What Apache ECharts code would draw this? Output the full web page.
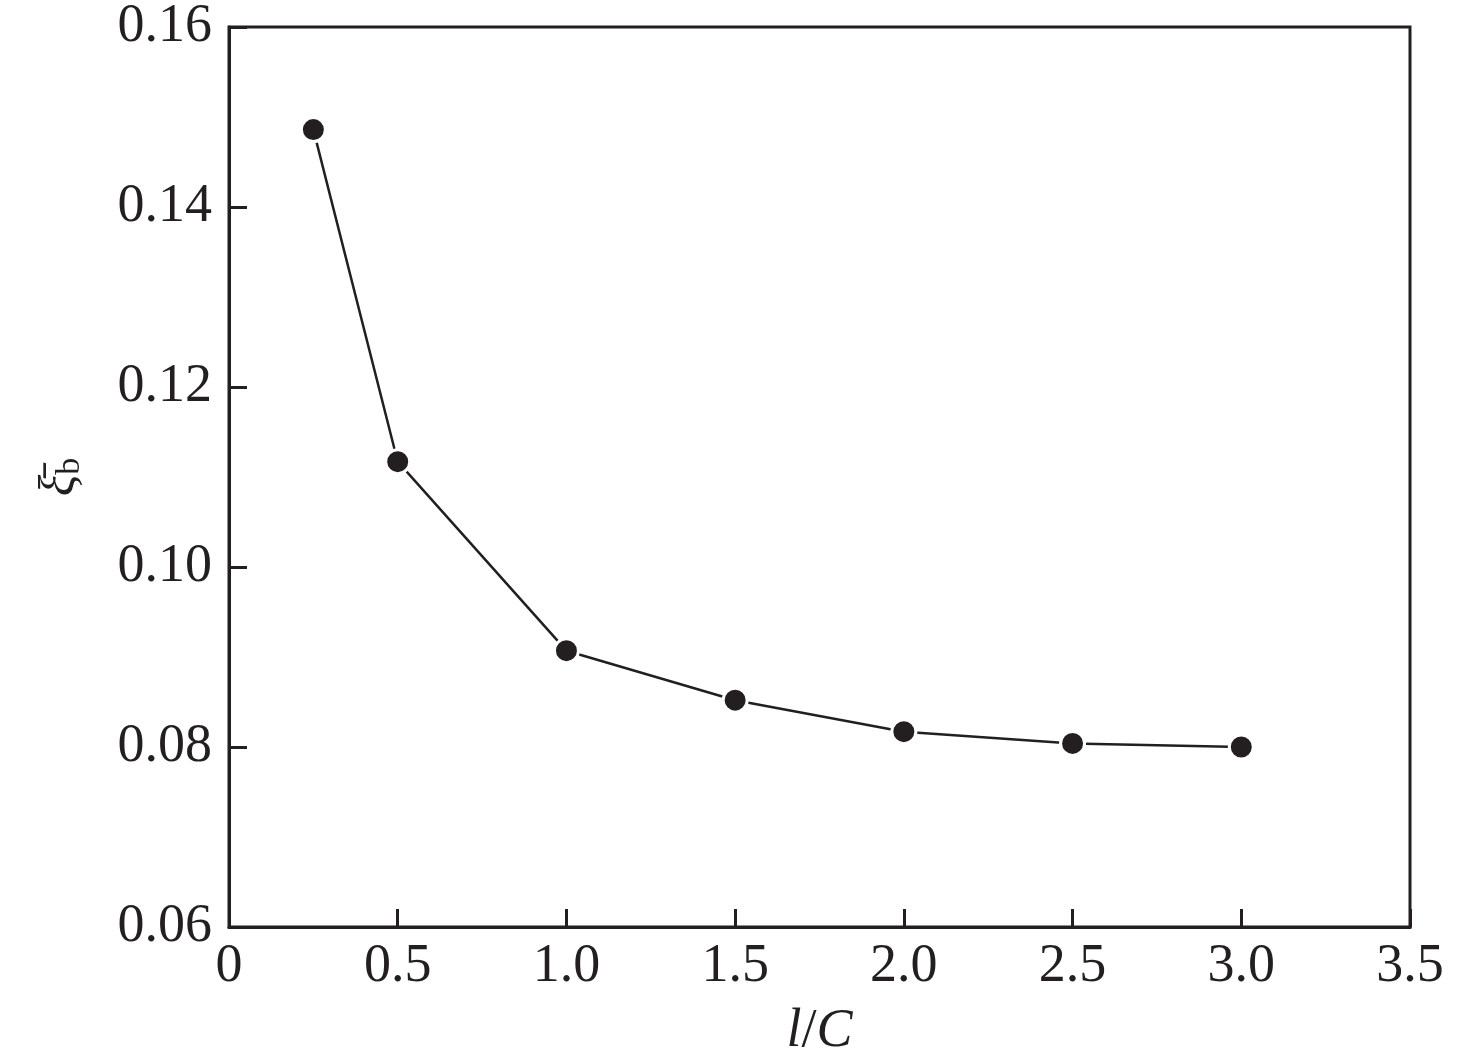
<!DOCTYPE html>
<html>
   <head>
       <meta charset="utf-8">
   </head>
   <body style="margin: 0; background: #fff">
       <div id="container" style="width: 1476px; height: 1063px"></div>
       <script type="text/javascript" src="https://cdn.jsdelivr.net/npm/echarts@6/dist/echarts.min.js"></script>
       <script type="text/javascript">
// l/C values and the mean damping ratio
var lc = [0.25, 0.5, 1.0, 1.5, 2.0, 2.5, 3.0];
var xiB = [0.1486, 0.1117, 0.0907, 0.0852, 0.0817, 0.0804, 0.0800];

var ink = '#231f20';
var font = '"Times New Roman", "Liberation Serif", serif';

var dom = document.getElementById("container");
var myChart = echarts.init(dom);

var points = lc.map(function (x, i) { return [x, xiB[i]]; });

var option = {
    animation: false,
    backgroundColor: '#fff',
    grid: {
        left: 229, right: 66, top: 27, bottom: 136,
        outerBoundsMode: 'none',
        show: true,
        borderColor: ink,
        borderWidth: 3
    },
    xAxis: {
        type: 'value',
        min: 0, max: 3.5, interval: 0.5,
        name: '{i|l}{n|/}{i|C}',
        nameLocation: 'middle',
        nameGap: 78,
        nameTextStyle: {
            rich: {
                i: {fontFamily: font, fontStyle: 'italic', fontSize: 54, color: ink},
                n: {fontFamily: font, fontSize: 54, color: ink}
            }
        },
        axisLine: {lineStyle: {color: ink, width: 3}},
        axisTick: {inside: true, length: 18, lineStyle: {color: ink, width: 3}},
        splitLine: {show: false},
        axisLabel: {
            margin: 13,
            fontFamily: font, fontSize: 54, color: ink,
            formatter: function (v) { return v === 0 ? '0' : v.toFixed(1); }
        }
    },
    yAxis: {
        type: 'value',
        min: 0.06, max: 0.16, interval: 0.02,
        name: '{x|ξ̄}{s|b}',
        nameLocation: 'middle',
        nameRotate: 90,
        nameGap: 142,
        nameTextStyle: {
            rich: {
                x: {fontFamily: font, fontStyle: 'italic', fontSize: 50, color: ink},
                s: {fontFamily: font, fontSize: 34, color: ink, padding: [18, 0, 0, 0]}
            }
        },
        axisLine: {lineStyle: {color: ink, width: 3}},
        axisTick: {inside: true, length: 18, lineStyle: {color: ink, width: 3}},
        splitLine: {show: false},
        axisLabel: {
            margin: 17,
            fontFamily: font, fontSize: 54, color: ink,
            formatter: function (v) { return v.toFixed(2); }
        }
    },
    series: [{
        type: 'line',
        data: points,
        symbol: 'circle',
        symbolSize: 24,
        lineStyle: {color: ink, width: 2.5},
        itemStyle: {color: ink, borderColor: '#fff', borderWidth: 3}
    }]
};

myChart.setOption(option);
       </script>
   </body>
</html>
